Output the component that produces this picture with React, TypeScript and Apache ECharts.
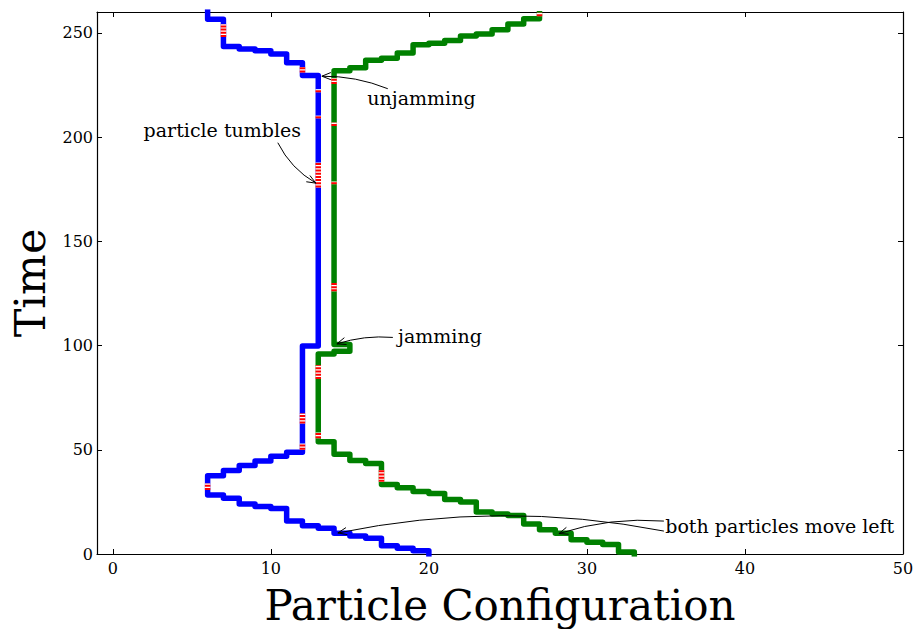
import React, { useEffect, useRef } from 'react';
import * as echarts from 'echarts';

// ---- axis ticks ----
const xTicks = [0, 10, 20, 30, 40, 50];
const yTicks = [0, 50, 100, 150, 200, 250];

// ---- particle trajectories: [position, time] ----
const bluePath: [number, number][] = [
  [20, 0], [20, 1.5], [19, 1.5], [19, 2.7], [18, 2.7], [18, 3.9], [17, 3.9], [17, 7.5],
  [16, 7.5], [16, 8.6], [15, 8.6], [15, 9.9], [14, 9.9], [14, 12.3], [13, 12.3], [13, 13.6],
  [12, 13.6], [12, 15.8], [11, 15.8], [11, 21.8], [10, 21.8], [10, 22.8], [9, 22.8], [9, 24],
  [8, 24], [8, 26.8], [7, 26.8], [7, 28.3], [6, 28.3], [6, 37.5], [7, 37.5], [7, 40],
  [8, 40], [8, 42.5], [9, 42.5], [9, 44.6], [10, 44.6], [10, 46.9], [11, 46.9], [11, 48.8],
  [12, 48.8], [12, 99.8], [13, 99.8], [13, 229.5], [12, 229.5], [12, 235.6], [11, 235.6],
  [11, 239.8], [10, 239.8], [10, 241.4], [9, 241.4], [9, 242.3], [8, 242.3], [8, 243.5],
  [7, 243.5], [7, 256.5], [6, 256.5], [6, 260]
];

const greenPath: [number, number][] = [
  [33, 0], [33, 0.9], [32, 0.9], [32, 4.6], [31, 4.6], [31, 5.6], [30, 5.6], [30, 6.8],
  [29, 6.8], [29, 9.9], [28, 9.9], [28, 11.6], [27, 11.6], [27, 14.4], [26, 14.4], [26, 18.5],
  [25, 18.5], [25, 19.2], [24, 19.2], [24, 20.2], [23, 20.2], [23, 25], [22, 25], [22, 26.2],
  [21, 26.2], [21, 29], [20, 29], [20, 30], [19, 30], [19, 31.8], [18, 31.8], [18, 33.3],
  [17, 33.3], [17, 43.4], [16, 43.4], [16, 44.8], [15, 44.8], [15, 47.9], [14, 47.9],
  [14, 53.9], [13, 53.9], [13, 96], [14, 96], [14, 97.3], [15, 97.3], [15, 100.5],
  [14, 100.5], [14, 231.8], [15, 231.8], [15, 233.3], [16, 233.3], [16, 236.8], [17, 236.8],
  [17, 237.8], [18, 237.8], [18, 240.3], [19, 240.3], [19, 244.3], [20, 244.3], [20, 245],
  [21, 245], [21, 246.3], [22, 246.3], [22, 248.5], [23, 248.5], [23, 249.5], [24, 249.5],
  [24, 251.5], [25, 251.5], [25, 254.3], [26, 254.3], [26, 256.8], [27, 256.8], [27, 259.2]
];

// ---- tumble events: [position, start time, end time] ----
const blueTumbles: [number, number, number][] = [
  [6, 30.7, 33.9], [12, 50, 53], [12, 62.6, 67.4], [13, 175.8, 187.8],
  [13, 209, 210.3], [13, 221.5, 223], [12, 231, 233.6], [7, 248, 254.2]
];
const greenTumbles: [number, number, number][] = [
  [17, 34.6, 40.2], [13, 55.5, 58.3], [13, 84, 90.5], [14, 126, 130],
  [14, 177.4, 178.7], [14, 205.3, 207], [14, 225.5, 228.3], [27, 258, 259.6]
];

// ---- annotations ----
const annotationTexts = ['unjamming', 'particle tumbles', 'jamming', 'both particles move left'];
const annotationPos: [number, number][] = [[19.53, 218.6], [6.93, 203.3], [20.7, 104.6], [42.2, 13.6]];
const arrowStart: [number, number][] = [[17.4, 223.2], [10.44, 197.3], [17.72, 103.9], [34.87, 11.0], [34.87, 15.8]];
const arrowEnd: [number, number][] = [[13.23, 229.2], [12.85, 177.9], [14.18, 100.8], [14.24, 10.1], [28.23, 9.8]];
const arrowRad = [0.1, 0.15, 0.1, 0.1, 0.1];

const FONT = 'DejaVu Serif';

export default function App() {
  const ref = useRef<HTMLDivElement>(null);

  useEffect(() => {
    const chart = echarts.init(ref.current!, null, { renderer: 'svg' });

    const axisLineStyle = { color: '#000', width: 1.2 };
    const tickStyle = { color: '#000', width: 1 };

    const tumbleData = [...blueTumbles, ...greenTumbles];
    const arrowData = arrowStart.map((s, i) => [s[0], s[1], arrowEnd[i][0], arrowEnd[i][1], arrowRad[i]]);

    const option: any = {
      animation: false,
      backgroundColor: '#fff',
      grid: { left: 97, right: 12, top: 12, bottom: 75, containLabel: false, outerBoundsMode: 'none' },
      xAxis: [
        {
          type: 'value', min: -1, max: 50, position: 'bottom',
          axisLine: { show: true, onZero: false, lineStyle: axisLineStyle },
          axisTick: { show: true, inside: true, length: 5, lineStyle: tickStyle, customValues: xTicks },
          axisLabel: { show: true, customValues: xTicks, color: '#000', fontFamily: FONT, fontSize: 16, margin: 6 },
          splitLine: { show: false },
          name: 'Particle Configuration', nameLocation: 'middle', nameGap: 30,
          nameTextStyle: { color: '#000', fontFamily: FONT, fontSize: 42 }
        },
        {
          type: 'value', min: -1, max: 50, position: 'top',
          axisLine: { show: true, onZero: false, lineStyle: axisLineStyle },
          axisTick: { show: true, inside: true, length: 5, lineStyle: tickStyle, customValues: xTicks },
          axisLabel: { show: false },
          splitLine: { show: false }
        }
      ],
      yAxis: [
        {
          type: 'value', min: 0, max: 260, position: 'left',
          axisLine: { show: true, onZero: false, lineStyle: axisLineStyle },
          axisTick: { show: true, inside: true, length: 5, lineStyle: tickStyle, customValues: yTicks },
          axisLabel: { show: true, customValues: yTicks, color: '#000', fontFamily: FONT, fontSize: 16, margin: 4 },
          splitLine: { show: false },
          name: 'Time', nameLocation: 'middle', nameGap: 43,
          nameTextStyle: { color: '#000', fontFamily: FONT, fontSize: 43 }
        },
        {
          type: 'value', min: 0, max: 260, position: 'right',
          axisLine: { show: true, onZero: false, lineStyle: axisLineStyle },
          axisTick: { show: true, inside: true, length: 5, lineStyle: tickStyle, customValues: yTicks },
          axisLabel: { show: false },
          splitLine: { show: false }
        }
      ],
      series: [
        {
          type: 'line', data: bluePath, symbol: 'none', showSymbol: false, z: 2,
          lineStyle: { color: '#0000ff', width: 5.5, join: 'round', cap: 'square' },
          itemStyle: { color: '#0000ff' }, emphasis: { disabled: true }, silent: true
        },
        {
          type: 'line', data: greenPath, symbol: 'none', showSymbol: false, z: 2,
          lineStyle: { color: '#008000', width: 5.5, join: 'round', cap: 'square' },
          itemStyle: { color: '#008000' }, emphasis: { disabled: true }, silent: true
        },
        {
          type: 'custom', data: tumbleData, z: 3, silent: true,
          encode: { x: 0, y: [1, 2] },
          renderItem: (params: any, api: any) => {
            const p0 = api.coord([api.value(0), api.value(1)]);
            const p1 = api.coord([api.value(0), api.value(2)]);
            const shape = { x1: p0[0], y1: p0[1], x2: p1[0], y2: p1[1] };
            return {
              type: 'group',
              children: [
                { type: 'line', shape, style: { stroke: '#ffffff', lineWidth: 5.5, fill: 'none' } },
                { type: 'line', shape, style: { stroke: '#ff0000', lineWidth: 5.5, lineDash: [2, 1.2], fill: 'none' } }
              ]
            };
          }
        },
        {
          type: 'custom', data: arrowData, z: 4, silent: true,
          encode: { x: [0, 2], y: [1, 3] },
          renderItem: (params: any, api: any) => {
            const p1 = api.coord([api.value(0), api.value(1)]);
            const p2 = api.coord([api.value(2), api.value(3)]);
            const rad = api.value(4);
            const dx = p2[0] - p1[0], dy = p2[1] - p1[1];
            const cx = (p1[0] + p2[0]) / 2 - rad * dy;
            const cy = (p1[1] + p2[1]) / 2 + rad * dx;
            let tx = p2[0] - cx, ty = p2[1] - cy;
            const L = Math.hypot(tx, ty) || 1;
            tx /= L; ty /= L;
            const hl = 9, hw = 3.6;
            const bx = p2[0] - tx * hl, by = p2[1] - ty * hl;
            const nx = -ty, ny = tx;
            return {
              type: 'group',
              children: [
                {
                  type: 'bezierCurve',
                  shape: { x1: p1[0], y1: p1[1], x2: p2[0], y2: p2[1], cpx1: cx, cpy1: cy },
                  style: { stroke: '#000', lineWidth: 1, fill: 'none' }
                },
                {
                  type: 'polyline',
                  shape: { points: [[bx + nx * hw, by + ny * hw], [p2[0], p2[1]], [bx - nx * hw, by - ny * hw]] },
                  style: { stroke: '#000', lineWidth: 1, fill: 'none' }
                }
              ]
            };
          }
        },
        {
          type: 'custom', data: annotationPos, z: 5, silent: true,
          encode: { x: 0, y: 1 },
          renderItem: (params: any, api: any) => {
            const p = api.coord([api.value(0), api.value(1)]);
            return {
              type: 'text', x: p[0], y: p[1],
              style: {
                text: annotationTexts[params.dataIndex],
                fontFamily: FONT, fontSize: 19, fill: '#000',
                align: 'center', verticalAlign: 'middle'
              }
            };
          }
        }
      ]
    };

    chart.setOption(option);
    return () => chart.dispose();
  }, []);

  return (
    <div
      ref={ref}
      style={{ position: 'fixed', left: 0, top: 0, width: 915, height: 629, background: '#fff' }}
    />
  );
}
